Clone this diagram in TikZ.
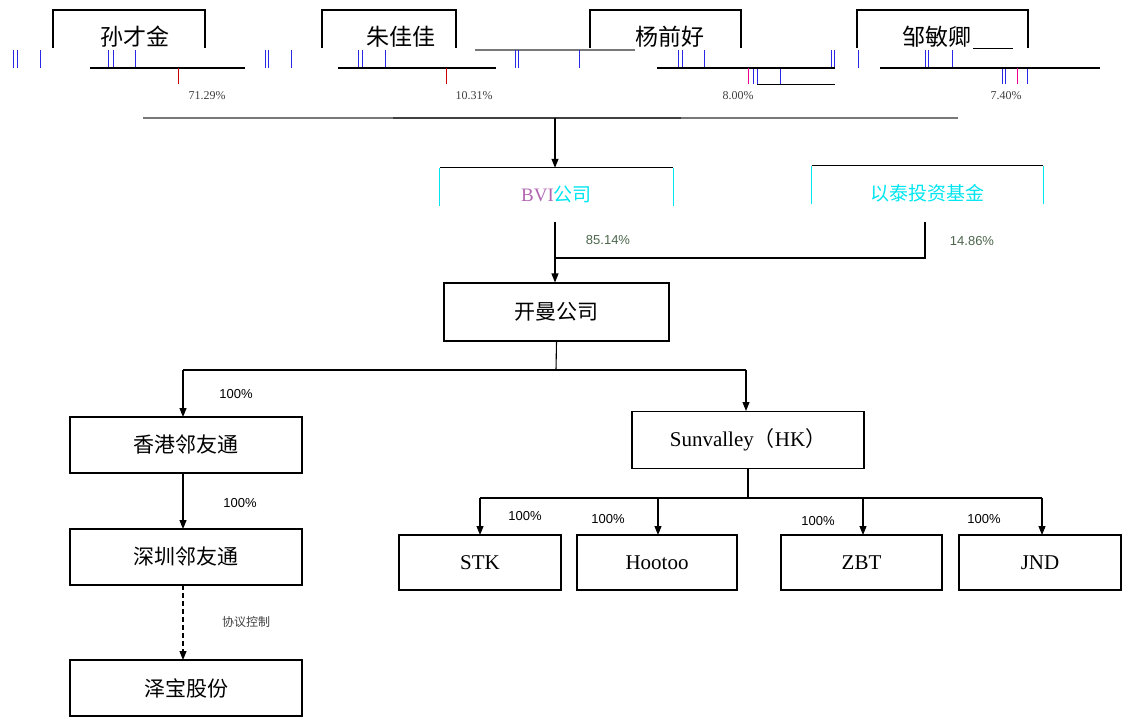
\documentclass[tikz,border=0pt]{standalone}
\usepackage{fontspec}
\setmainfont{Liberation Serif}
\newfontfamily\cjk{Noto Sans CJK SC}
\newfontfamily\arialf{Liberation Sans}
\usetikzlibrary{arrows.meta}
\definecolor{gline}{RGB}{120,120,120}
\definecolor{cyanx}{RGB}{0,230,240}
\definecolor{tickb}{RGB}{40,40,230}
\tikzset{
  box/.style={draw=black, line width=1.1pt, minimum width=232pt, minimum height=56pt, inner sep=0pt},
  sbox/.style={draw=black, line width=1.1pt, minimum width=162pt, minimum height=55pt, inner sep=0pt},
  cn/.style={font=\cjk\fontsize{21}{21}\selectfont},
  en/.style={font=\fontsize{21}{21}\selectfont},
  pct/.style={font=\arialf\fontsize{13}{13}\selectfont},
  conn/.style={line width=1.1pt, black},
  arr/.style={conn, -{Triangle[length=9pt,width=7pt]}},
  topbox/.style={line width=1.1pt, black},
  glitch/.style={line width=1pt, tickb},
}
\begin{document}
\begin{tikzpicture}[x=1pt,y=-1pt]
\useasboundingbox (0,0) rectangle (1129,720);
\fill[white] (0,0) rectangle (1129,720);

% ---- top shareholder boxes (open at the bottom) ----
\draw[topbox] (53,48) -- (53,10) -- (205,10) -- (205,48);
\draw[topbox] (322,48) -- (322,10) -- (456,10) -- (456,48);
\draw[topbox] (590,48) -- (590,10) -- (741,10) -- (741,48);
\draw[topbox] (857,48) -- (857,10) -- (1028,10) -- (1028,48);
\node[cn, font=\cjk\fontsize{23}{23}\selectfont] (p1) at (135,37) {孙才金};
\node[cn, font=\cjk\fontsize{23}{23}\selectfont] (p2) at (401,37) {朱佳佳};
\node[cn, font=\cjk\fontsize{23}{23}\selectfont] (p3) at (670,37) {杨前好};
\node[cn, font=\cjk\fontsize{23}{23}\selectfont] (p4) at (937,37) {邹敏卿};

% glitch lines
\draw[gline, line width=1.2pt] (475,50) -- (635,50);
\draw[black, line width=0.9pt] (973,48) -- (1013,48);
\foreach \x in {13,17,40,108,113,135,265,268,291,358,362,385,515,518,579,678,682,704,831,834,858,925,928,952}
  \draw[glitch] (\x,50) -- (\x,68);
\foreach \x in {753,757,780,1002,1005,1027}
  \draw[glitch] (\x,68) -- (\x,84);
\draw[black, line width=0.9pt] (757,84) -- (835,84);

% horizontal lines below names
\coordinate (h1a) at (90,68);  \coordinate (h1b) at (245,68);
\coordinate (h2a) at (338,68); \coordinate (h2b) at (496,68);
\coordinate (h3a) at (657,68); \coordinate (h3b) at (835,68);
\coordinate (h4a) at (880,68); \coordinate (h4b) at (1100,68);
\draw[conn] (h1a) -- (h1b);
\draw[conn] (h2a) -- (h2b);
\draw[conn] (h3a) -- (h3b);
\draw[conn] (h4a) -- (h4b);
\draw[red!80!black, line width=1pt] (178,68) -- (178,84);
\draw[red!80!black, line width=1pt] (446,68) -- (446,84);
\draw[magenta, line width=1pt] (748,68) -- (748,84);
\draw[magenta, line width=1pt] (1017,68) -- (1017,84);
\node[pct, font=\fontsize{12}{12}\selectfont, text=black!75] (s1) at (207,96) {71.29\%};
\node[pct, font=\fontsize{12}{12}\selectfont, text=black!75] (s2) at (474,96) {10.31\%};
\node[pct, font=\fontsize{12}{12}\selectfont, text=black!75] (s3) at (738,96) {8.00\%};
\node[pct, font=\fontsize{12}{12}\selectfont, text=black!75] (s4) at (1006,96) {7.40\%};

% long line to BVI
\coordinate (topL) at (143,118);
\coordinate (topR) at (958,118);
\coordinate (topM) at (555,118);
\draw[gline, line width=2pt] (topL) -- (topR);
\draw[black!75, line width=2pt] (393,118) -- (681,118);

% ---- BVI and fund ----
\node[minimum width=233pt, minimum height=52pt, inner sep=0pt] (bvi) at (556.5,194) {};
\node[minimum width=231pt, minimum height=54pt, inner sep=0pt] (fund) at (927.5,193) {};
\draw[conn] (bvi.north west) -- (bvi.north east);
\draw[conn] (fund.north west) -- (fund.north east);
\draw[cyanx, line width=1.2pt] (bvi.north west) -- ++(0,38) (bvi.north east) -- ++(0,38);
\draw[cyanx, line width=1.2pt] (fund.north west) -- ++(0,38) (fund.north east) -- ++(0,38);
\node[cn, font=\cjk\fontsize{19}{19}\selectfont, text=cyanx] at (bvi.center) {{\fontspec{Liberation Serif}\color{violet!60}BVI}公司};
\node[cn, font=\cjk\fontsize{19}{19}\selectfont, text=cyanx] at (fund.center) {以泰投资基金};
\draw[arr] (topM) -- (topM |- bvi.north);

% ---- Cayman ----
\node[box, minimum width=225pt, minimum height=58pt] (km) at (556.5,312) {};
\node[cn] at (km.center) {开曼公司};
\coordinate (bvib) at (555,222);
\coordinate (fundb) at (925,222);
\coordinate (join) at (555,258);
\draw[arr] (bvib) -- (bvib |- km.north);
\draw[conn] (fundb) -- (fundb |- join) -- (join);
\node[pct, text=violet!60!green] (l1) at (608,240) {85.14\%};
\node[pct, text=violet!60!green] (l2) at (972,241) {14.86\%};

% ---- second level ----
\node[box] (hk) at (186,445) {};
\node[cn] at (hk.center) {香港邻友通};
\node[box, minimum height=57pt] (sv) at (748,440) {};
\node[en] at (sv.center) {Sunvalley{\cjk（}HK{\cjk）}};
\coordinate (kmb) at (556,370);
\draw[conn] (km.south) -- (kmb);
\draw[conn] (183,370) -- (746,370);
\draw[arr] (183,370) -- (183,417);
\draw[arr] (746,370) -- (746,411);
\node[pct] at (236,394) {100\%};

\node[box] (sz) at (186,557) {};
\node[cn] at (sz.center) {深圳邻友通};
\node[box] (zb) at (186,688) {};
\node[cn] at (zb.center) {泽宝股份};
\draw[arr] (183,473) -- (183,529);
\node[pct] at (240,503) {100\%};
\draw[arr, dashed, dash pattern=on 5pt off 3pt] (183,585) -- (183,660);
\node[cn, font=\cjk\fontsize{12}{12}\selectfont, text=black!75] at (246,622) {协议控制};

% ---- subsidiaries ----
\node[sbox] (stk) at (480,562.5) {};
\node[en] at (stk.center) {STK};
\node[sbox, minimum width=160pt] (ht) at (657,562.5) {};
\node[en] at (ht.center) {Hootoo};
\node[sbox, minimum width=161pt] (zbt) at (861.5,562.5) {};
\node[en] at (zbt.center) {ZBT};
\node[sbox] (jnd) at (1040,562.5) {};
\node[en] at (jnd.center) {JND};
\coordinate (svb) at (748,498);
\draw[conn] (748,468) -- (svb);
\draw[conn] (480,498) -- (1042,498);
\draw[arr] (480,498) -- (480,535);
\draw[arr] (658,498) -- (658,535);
\draw[arr] (863,498) -- (863,535);
\draw[arr] (1042,498) -- (1042,535);
\node[pct] at (525,516) {100\%};
\node[pct] at (608,519) {100\%};
\node[pct] at (818,521) {100\%};
\node[pct] at (984,519) {100\%};
\end{tikzpicture}
\end{document}
